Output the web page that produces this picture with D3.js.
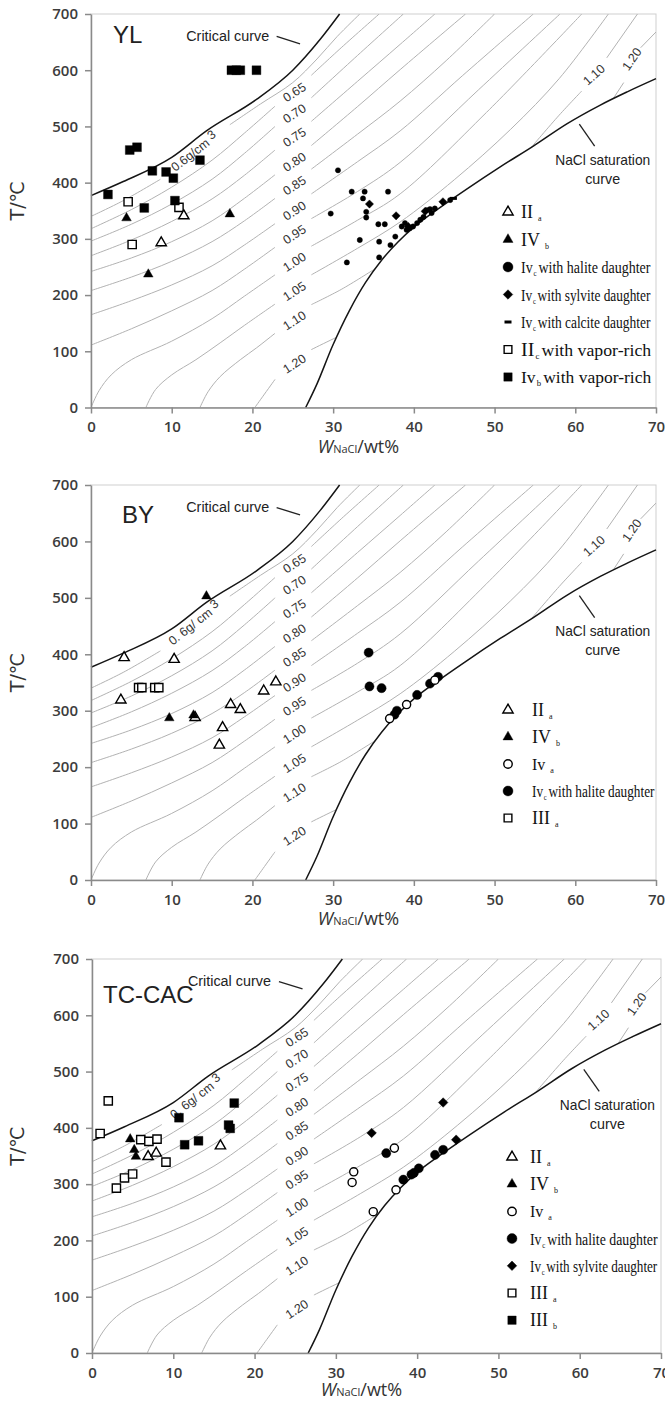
<!DOCTYPE html>
<meta charset="utf-8">
<title>NaCl-H2O isochores, fluid inclusions</title>
<style>
body { margin: 0; background: #fff; }
.iso { fill: none; stroke: #b2b2b2; stroke-width: 1; }
.bound { fill: none; stroke: #151515; stroke-width: 1.5; }
.isolabel { font-family: "Liberation Sans", Arial, sans-serif; font-size: 12.5px; fill: #333; }
.axis text { font-family: "Open Sans", sans-serif; font-size: 15px; font-weight: 600; fill: #3c3c3c; }
.axis path, .axis line { stroke: #8a8a8a; stroke-width: 1.5; }
.note { font-family: "Liberation Sans", Arial, sans-serif; font-size: 14px; fill: #222; }
.legend text { font-family: "Liberation Serif", "Times New Roman", serif; fill: #111; }
</style>
<body>
<svg width="665" height="1411"></svg>
<script src="https://d3js.org/d3.v7.min.js"></script>
<script>

// boundary curves (wt% NaCl, T in C)
var criticalCurve = [[0,377],[4,402],[10,445],[14.3,492],[20.5,548],[25,600],[28.4,655],[30.8,700]];
var saturationCurve = [[26.6,0],[28,42],[30,112],[32,172],[34,222],[36,262],[38,294],[40,321],[42.4,347],
                       [46.5,388],[50.7,428],[54.8,465],[59,505],[63.1,538],[66.5,562],[70,585]];

// isochores, split where the density label sits
var isoLeft = [
  [[0,340],[4,368],[8.6,406]],
  [[0,318],[5,352],[10,392],[15,440],[19,488],[22.8,536]],
  [[0,296],[5,326],[10,362],[15,406],[19,452],[22.8,500]],
  [[0,270],[5,298],[10,331],[15,371],[19,413],[22.8,458]],
  [[0,242],[5,266],[10,295],[15,332],[19,372],[22.8,414]],
  [[0,208],[5,232],[10,260],[15,295],[19,332],[22.8,372]],
  [[0,165],[5,190],[10,218],[15,252],[19,289],[22.8,327]],
  [[0,111],[5,140],[10,172],[15,208],[19,246],[22.8,285]],
  [[0,0],[1,30],[2.5,58],[5,85],[10,118],[15,158],[19,198],[22.8,236]],
  [[6.8,0],[8,32],[10,58],[13,85],[16,115],[19,146],[22.8,184]],
  [[13.5,0],[14.5,28],[16,55],[18.5,85],[20.5,106],[22.8,132]],
  [[20.3,0],[21.3,20],[22.8,50]]
];
var isoRight = [
  [[17.2,503],[21,540],[25,578],[28,620],[30.5,660],[33.3,700]],
  [[27.3,591],[31,640],[35.7,700]],
  [[27.3,551],[33,626],[38.7,700]],
  [[27.3,509],[33,580],[38.3,646],[42.6,700]],
  [[27.3,466],[33,535],[38.3,601],[46.4,700]],
  [[27.3,424],[33,486],[38.3,545],[44,617],[50,700]],
  [[27.3,380],[33,437],[38.3,492],[46,590],[54.8,700]],
  [[27.3,336],[33,384],[38.3,436],[48,565],[58.1,700]],
  [[27.3,287],[33,333],[38.3,380],[49,525],[60.8,700]],
  [[27.3,236],[33,283],[38.3,330],[45,405],[52,495],[58,585],[64.1,700]],
  [[27.3,183],[31,210],[35,245]],
  [[27.3,103],[30,122],[32,135]]
];
// the two short isochores in the high-salinity corner
var isoUpper = [
  [[54.5,462],[58,520],[60.8,563]],
  [[63.9,622],[67.8,702]],
  [[64.5,545],[66,578]],
  [[68.1,640],[70,668]]
];
var isoNames = ["0.65","0.70","0.75","0.80","0.85","0.90","0.95","1.00","1.05","1.10","1.20"];
var isoLabelT = [561,523,481,437,395,350,308,259,207,155,78];
var upperNames = ["1.10","1.20"];
var upperLabelAt = [[62.3,592],[67,620]];

// YL
var ylIIa = [[8.7,293],[11.5,341]];
var ylIVb = [[4.4,337],[7.1,237],[17.2,344]];
var ylHalite = [[30.6,422],[29.7,345],[32.3,384],[33.9,384],[36.8,384],[33.7,372],[34.1,348],[34.1,338],
  [35.6,326],[36.4,326],[33.3,298],[35.7,295],[35.7,267],[31.7,258],[37.1,289],[37.7,304],[38.5,322],
  [38.9,328],[39.1,316],[39.5,319],[39.9,322],[40.4,328],[40.8,334],[41.2,339],[41.6,351],[42.0,353],
  [42.2,346],[42.6,354],[44.5,369]];
var ylSylvite = [[34.5,362],[37.8,341],[39.3,322],[41.4,349],[43.6,366]];
var ylCalcite = [[44.9,372]];
var ylIIcVapor = [[4.6,366],[5.1,290],[10.9,356]];
var ylIvbVapor = [[2.1,379],[4.8,458],[5.7,463],[6.6,355],[7.6,421],[9.3,419],[10.2,408],[10.4,368],
  [13.5,440],[17.4,600],[18.0,600],[18.5,600],[20.5,600]];

// BY
var byIIa = [[4.1,394],[3.7,319],[10.3,391],[12.9,288],[16.3,270],[15.9,239],[17.3,311],[18.5,302],[21.4,335],[22.9,351]];
var byIVb = [[14.3,503],[9.7,287],[12.7,292]];
var byIva = [[37.0,286],[39.1,311],[42.6,354]];
var byHalite = [[34.4,403],[34.5,343],[36.0,340],[37.9,300],[37.6,293],[40.4,328],[42.0,348],[43.0,360]];
var byIIIa = [[5.9,341],[6.3,341],[7.9,341],[8.4,341]];

// TC-CAC
var tcIIa = [[6.9,349],[7.9,355],[15.8,368]];
var tcIVb = [[4.7,380],[5.2,361],[5.4,349]];
var tcIva = [[37.2,364],[32.2,322],[32.0,303],[37.4,290],[34.6,251]];
var tcHalite = [[36.2,355],[38.3,308],[39.3,317],[39.6,320],[40.2,328],[42.2,352],[43.2,361]];
var tcSylvite = [[34.4,391],[43.2,445],[44.8,379]];
var tcIIIa = [[2.0,448],[1.0,390],[3.0,293],[4.0,311],[5.0,318],[6.0,379],[7.0,376],[8.0,380],[9.1,339]];
var tcIIIb = [[10.7,418],[11.4,370],[13.1,377],[16.8,405],[17.0,399],[17.5,444]];

var ylLegend = [["triOpen","II","a",""],["triFill","IV","b",""],["circFill","Iv","c","with halite daughter"],
  ["diamond","Iv","c","with sylvite daughter"],["dash","Iv","c","with calcite daughter"],
  ["sqOpen","II","c","with vapor-rich"],["sqFill","Iv","b","with vapor-rich"]];
var byLegend = [["triOpen","II","a",""],["triFill","IV","b",""],["circOpen","Iv","a",""],
  ["circFill","Iv","c","with halite daughter"],["sqOpen","III","a",""]];
var tcLegend = [["triOpen","II","a",""],["triFill","IV","b",""],["circOpen","Iv","a",""],
  ["circFill","Iv","c","with halite daughter"],["diamond","Iv","c","with sylvite daughter"],
  ["sqOpen","III","a",""],["sqFill","III","b",""]];

var panels = [
  {name:"YL", left:91, right:656, top:14, bottom:407.5, tdx:22, tdy:29,
   legX:508, legTX:521, legY:212, legStep:27.5, longW:127, xtDy:45, legend:ylLegend,
   series:[[ylHalite,"dot"],[ylSylvite,"diamondSm"],[ylCalcite,"dash"],[ylIIcVapor,"sqOpen"],
           [ylIvbVapor,"sqFill"],[ylIIa,"triOpen"],[ylIVb,"triFill"]]},
  {name:"BY", left:91, right:656, top:485, bottom:880, tdx:31, tdy:38,
   legX:508, legTX:532, legY:710, legStep:27, longW:120, xtDy:44.5, legend:byLegend,
   series:[[byHalite,"circFill"],[byIva,"circOpen"],[byIIIa,"sqOpen"],[byIIa,"triOpen"],[byIVb,"triFill"]]},
  {name:"TC-CAC", left:92, right:661, top:959, bottom:1353, tdx:11, tdy:44,
   legX:512, legTX:530, legY:1157, legStep:27.2, longW:125, xtDy:43, legend:tcLegend,
   series:[[tcHalite,"circFill"],[tcIva,"circOpen"],[tcSylvite,"diamond"],[tcIIIa,"sqOpen"],
           [tcIIIb,"sqFill"],[tcIIa,"triOpen"],[tcIVb,"triFill"]]}
];

var symType = {triOpen:d3.symbolTriangle, triFill:d3.symbolTriangle, circFill:d3.symbolCircle,
  circOpen:d3.symbolCircle, dot:d3.symbolCircle, diamond:d3.symbolSquare, diamondSm:d3.symbolSquare,
  sqOpen:d3.symbolSquare, sqFill:d3.symbolSquare};
var symSize = {triOpen:46, triFill:40, circFill:66, circOpen:52, dot:22, diamond:46, diamondSm:34,
  sqOpen:68, sqFill:78};
var legSize = {triOpen:46, triFill:44, circFill:78, circOpen:56, diamond:46, sqOpen:60, sqFill:70};

var svg = d3.select("svg");

function drawMark(g, cx, cy, kind, size) {
  if (kind == "dash") {
    g.append("rect").attr("x", cx - 3.5).attr("y", cy - 1.5).attr("width", 7).attr("height", 3).attr("fill", "#000");
    return;
  }
  var open = kind == "triOpen" || kind == "circOpen" || kind == "sqOpen";
  var rot = (kind == "diamond" || kind == "diamondSm") ? " rotate(45)" : "";
  g.append("path")
    .attr("d", d3.symbol().type(symType[kind]).size(size)())
    .attr("transform", "translate(" + cx + "," + cy + ")" + rot)
    .attr("fill", open ? "#fff" : "#000")
    .attr("stroke", "#000")
    .attr("stroke-width", open ? 1.4 : 0.4);
}

panels.forEach(function(p, i) {
  var x = d3.scaleLinear().domain([0, 70]).range([p.left, p.right]);
  var y = d3.scaleLinear().domain([0, 700]).range([p.bottom, p.top]);
  var g = svg.append("g");

  var smooth = d3.line().x(function(d) { return x(d[0]); }).y(function(d) { return y(d[1]); })
      .curve(d3.curveCatmullRom.alpha(0.5));
  var mono = d3.line().x(function(d) { return x(d[0]); }).y(function(d) { return y(d[1]); })
      .curve(d3.curveMonotoneX);

  // clip: plot area on the liquid side of the saturation curve
  var clipId = "clip" + i;
  var satPath = smooth(saturationCurve);
  g.append("clipPath").attr("id", clipId).append("path")
    .attr("d", "M" + x(0) + "," + y(700) + "L" + x(0) + "," + y(0) + "L" + satPath.slice(1) +
               "L" + x(70) + "," + y(700) + "Z");

  g.append("rect").attr("x", p.left).attr("y", p.top)
    .attr("width", p.right - p.left).attr("height", p.bottom - p.top)
    .attr("fill", "none").attr("stroke", "#cfcfcf");

  var iso = g.append("g").attr("clip-path", "url(#" + clipId + ")");
  isoLeft.concat(isoRight, isoUpper).forEach(function(line) {
    iso.append("path").attr("class", "iso").attr("d", smooth(line));
  });

  isoNames.forEach(function(n, k) {
    var cx = x(25.2), cy = y(isoLabelT[k]);
    g.append("text").attr("class", "isolabel")
      .attr("x", cx).attr("y", cy).attr("dy", "0.35em").attr("text-anchor", "middle")
      .attr("transform", "rotate(-33," + cx + "," + cy + ")").text(n);
  });
  upperNames.forEach(function(n, k) {
    var cx = x(upperLabelAt[k][0]), cy = y(upperLabelAt[k][1]);
    g.append("text").attr("class", "isolabel")
      .attr("x", cx).attr("y", cy).attr("dy", "0.35em").attr("text-anchor", "middle")
      .attr("transform", "rotate(" + (k == 0 ? -42 : -55) + "," + cx + "," + cy + ")").text(n);
  });
  var lx = x(12.8), ly = y(455);
  var l6 = g.append("text").attr("class", "isolabel")
    .attr("x", lx).attr("y", ly).attr("dy", "0.35em").attr("text-anchor", "middle")
    .attr("transform", "rotate(-38," + lx + "," + ly + ")");
  l6.append("tspan").text(i == 0 ? "0.6g/cm " : "0. 6g/ cm ");
  l6.append("tspan").attr("dy", -3).text("3");

  g.append("path").attr("class", "bound").attr("d", mono(criticalCurve));
  g.append("path").attr("class", "bound").attr("d", satPath);

  // notes
  g.append("text").attr("class", "note").attr("x", x(11.8)).attr("y", y(652))
    .attr("textLength", 83).attr("lengthAdjust", "spacingAndGlyphs").text("Critical curve");
  g.append("line").attr("x1", x(23)).attr("y1", y(660)).attr("x2", x(25.9)).attr("y2", y(647))
    .attr("stroke", "#222").attr("stroke-width", 1.3);
  g.append("text").attr("class", "note").attr("x", x(63.4)).attr("y", y(432)).attr("text-anchor", "middle")
    .attr("textLength", 95).attr("lengthAdjust", "spacingAndGlyphs").style("font-size", "15px").text("NaCl saturation");
  g.append("text").attr("class", "note").attr("x", x(63.4)).attr("y", y(398)).attr("text-anchor", "middle")
    .attr("textLength", 35).attr("lengthAdjust", "spacingAndGlyphs").style("font-size", "15px").text("curve");
  g.append("line").attr("x1", x(60.5)).attr("y1", y(504)).attr("x2", x(62.4)).attr("y2", y(465))
    .attr("stroke", "#222").attr("stroke-width", 1.3);

  g.append("text").attr("x", p.left + p.tdx).attr("y", p.top + p.tdy)
    .style("font-family", "'Liberation Sans', Arial, sans-serif").style("font-size", "24px")
    .attr("fill", "#222").text(p.name);

  // axes
  g.append("g").attr("class", "axis").attr("transform", "translate(" + p.left + ",0)")
    .call(d3.axisLeft(y).tickValues(d3.range(0, 701, 100)).tickSize(6).tickSizeOuter(0).tickPadding(7));
  g.append("g").attr("class", "axis").attr("transform", "translate(0," + p.bottom + ")")
    .call(d3.axisBottom(x).tickValues(d3.range(0, 71, 10)).tickSize(6).tickSizeOuter(0).tickPadding(8));

  var my = (p.top + p.bottom) / 2 - 10;
  g.append("text").attr("transform", "translate(24," + my + ") rotate(-90)")
    .attr("text-anchor", "middle")
    .style("font-family", "'DejaVu Sans', sans-serif").style("font-size", "19px").attr("fill", "#333")
    .text("T/\u2103");
  var xt = g.append("text").attr("x", (p.left + p.right) / 2 - 15).attr("y", p.bottom + p.xtDy)
    .attr("text-anchor", "middle").style("font-family", "'Open Sans', sans-serif").attr("fill", "#333");
  xt.append("tspan").style("font-style", "italic").style("font-size", "18px").text("W");
  xt.append("tspan").style("font-size", "11px").text("NaCl");
  xt.append("tspan").style("font-size", "18px").text("/wt%");

  // points
  p.series.forEach(function(s) {
    s[0].forEach(function(d) { drawMark(g, x(d[0]), y(d[1]), s[1], symSize[s[1]]); });
  });

  // legend
  var lg = g.append("g").attr("class", "legend");
  p.legend.forEach(function(e, k) {
    var ry = p.legY + k * p.legStep;
    drawMark(lg, p.legX, ry, e[0], legSize[e[0]]);
    var pos = "translate(" + p.legTX + "," + (ry + 6) + ")";
    var t = lg.append("text").attr("transform", pos);
    t.append("tspan").style("font-size", e[1] == "Iv" ? "16px" : "18px").text(e[1]);
    t.append("tspan").style("font-size", "8px").attr("dx", e[3] ? 1 : 5).attr("dy", 3).text(e[2]);
    if (e[3]) {
      t.append("tspan").style("font-size", "16px").attr("dx", 2).attr("dy", -3).text(e[3]);
      var w = t.node().getComputedTextLength();
      t.attr("transform", pos + " scale(" + (p.longW / w) + ",1)");
    }
  });
});

</script>
</body>
